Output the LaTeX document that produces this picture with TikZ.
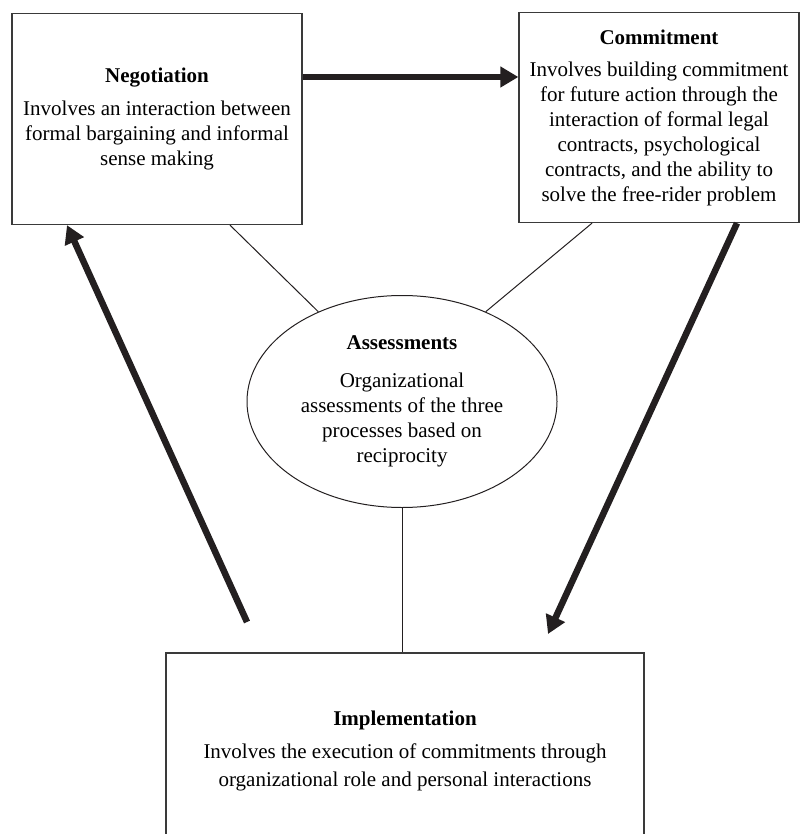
\documentclass[tikz,border=0pt]{standalone}
\usepackage{fontspec}
\setmainfont{Liberation Serif}
\usetikzlibrary{shapes.geometric,arrows.meta}
\definecolor{boxline}{HTML}{3A3A3A}
\definecolor{arrowink}{HTML}{231F20}
\tikzset{
  procbox/.style={draw=boxline, line width=1.3pt, align=center, inner sep=0pt,
                  font=\fontsize{21}{25}\selectfont},
  assess/.style={procbox, ellipse, draw=arrowink, line width=1pt},
  link/.style={draw=arrowink, line width=1pt},
  flow/.style={draw=arrowink, line width=6.5pt,
               -{Triangle[length=18pt,width=20pt]}},
}

\begin{document}
\begin{tikzpicture}[x=1pt, y=-1pt]
  \useasboundingbox (0,0) rectangle (800,834);
  % the three processes
  \node[procbox, minimum width=290pt, minimum height=211pt] (neg) at (157,119)
    {\textbf{Negotiation}\\[8pt]
     Involves an interaction between\\
     formal bargaining and informal\\
     sense making};
  \node[procbox, minimum width=280pt, minimum height=210pt] (com) at (659,117.5)
    {\textbf{Commitment}\\[7pt]
     Involves building commitment\\
     for future action through the\\
     interaction of formal legal\\
     contracts, psychological\\
     contracts, and the ability to\\
     solve the free-rider problem};
  \node[procbox, minimum width=478pt, minimum height=196pt] (imp) at (405,751)
    {\textbf{Implementation}\\[8pt]
     Involves the execution of commitments through\\[3pt]
     organizational role and personal interactions};
  % assessments in the middle
  \node[assess, minimum width=310pt, minimum height=212pt] (ass) at (402,401.5)
    {\textbf{Assessments}\\[13pt]
     Organizational\\
     assessments of the three\\
     processes based on\\
     reciprocity};

  \coordinate (top) at (0,77);
  \coordinate (negL) at (230,0);
  \coordinate (comL) at (592,0);
  \coordinate (negA) at (67,0);
  \coordinate (comA) at (737,0);
  \coordinate (impL) at (247,622);
  \coordinate (impR) at (548,634);

  % thin links to the assessments
  \draw[link] (neg.south -| negL) -- (ass.133);
  \draw[link] (com.south -| comL) -- (ass.47);
  \draw[link] (ass.south) -- (imp.north -| ass.south);

  % the cycle
  \draw[flow] (neg.east |- top) -- (com.west |- top);
  \draw[flow] (com.south -| comA) -- (impR);
  \draw[flow] (impL) -- (neg.south -| negA);
\end{tikzpicture}
\end{document}
